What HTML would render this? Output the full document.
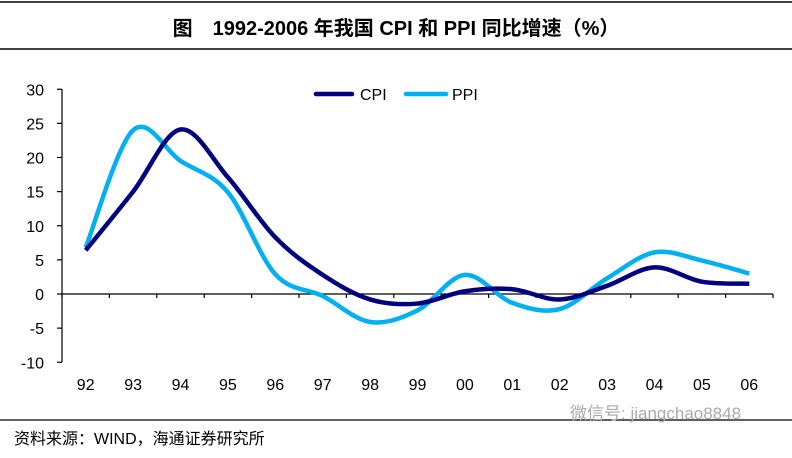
<!DOCTYPE html><html><head><meta charset="utf-8"><style>
body{margin:0;background:#fff;width:792px;height:453px;overflow:hidden}
</style></head><body>
<svg id="s" width="792" height="453" xmlns="http://www.w3.org/2000/svg" font-family="Liberation Sans, Noto Sans CJK SC, sans-serif">
<line x1="0" y1="2" x2="792" y2="2" stroke="#000" stroke-width="1.5"/>
<line x1="0" y1="49" x2="792" y2="49" stroke="#000" stroke-width="1.5"/>
<line x1="0" y1="420" x2="792" y2="420" stroke="#000" stroke-width="1.2"/>
<text x="396" y="35" text-anchor="middle" font-size="20" font-weight="bold">图　1992-2006 年我国 CPI 和 PPI 同比增速（%）</text>
<text x="14" y="444" font-size="16">资料来源：WIND，海通证券研究所</text>
<text x="570" y="419" font-size="17" fill="#aaa">微信号: jiangchao8848</text>
<g id="ax" stroke="#000" stroke-width="1.2"></g>
<g id="lab" font-size="16" fill="#000"></g>
<path id="ppi" fill="none" stroke="#00b0f0" stroke-width="4.5"/>
<path id="cpi" fill="none" stroke="#000080" stroke-width="4.5"/>
<line x1="316" y1="94" x2="352" y2="94" stroke="#000080" stroke-width="4.5" stroke-linecap="round"/>
<text x="360" y="100" font-size="16">CPI</text>
<line x1="406" y1="94" x2="446" y2="94" stroke="#00b0f0" stroke-width="4.5" stroke-linecap="round"/>
<text x="452" y="100" font-size="16">PPI</text>
</svg>
<script>
var NS="http://www.w3.org/2000/svg";
function Y(v){return 294-v*6.825}
function X(i){return 62+23.7+i*47.4}
var ax=document.getElementById('ax'),lab=document.getElementById('lab');
function el(p,t,a){var e=document.createElementNS(NS,t);for(var k in a)e.setAttribute(k,a[k]);p.appendChild(e);return e}
el(ax,'line',{x1:62,y1:Y(30),x2:62,y2:Y(-10)});
el(ax,'line',{x1:62,y1:294,x2:773,y2:294});
for(var v=-10;v<=30;v+=5){el(ax,'line',{x1:57,y1:Y(v),x2:62,y2:Y(v)});var t=el(lab,'text',{x:44,y:Y(v)+6,'text-anchor':'end'});t.textContent=v;}
var yrs=["92","93","94","95","96","97","98","99","00","01","02","03","04","05","06"];
for(var i=0;i<15;i++){var t=el(lab,'text',{x:X(i),y:390,'text-anchor':'middle'});t.textContent=yrs[i];el(ax,'line',{x1:62+i*47.4,y1:294,x2:62+i*47.4,y2:298});}
el(ax,'line',{x1:773,y1:294,x2:773,y2:298});
function path(d){var p=d.map(function(v,i){return[X(i),Y(v)]});var s="M"+p[0][0]+","+p[0][1];
for(var i=0;i<p.length-1;i++){var p0=p[i-1]||p[i],p1=p[i],p2=p[i+1],p3=p[i+2]||p2;var t=6;
s+=" C"+(p1[0]+(p2[0]-p0[0])/t)+","+(p1[1]+(p2[1]-p0[1])/t)+" "+(p2[0]-(p3[0]-p1[0])/t)+","+(p2[1]-(p3[1]-p1[1])/t)+" "+p2[0]+","+p2[1];}return s}
document.getElementById('cpi').setAttribute('d',path([6.4,15,24.1,17.1,8.3,2.8,-0.8,-1.4,0.4,0.7,-0.8,1.2,3.9,1.8,1.5]));
document.getElementById('ppi').setAttribute('d',path([6.8,24.0,19.5,14.9,2.9,-0.3,-4.1,-2.4,2.8,-1.3,-2.2,2.3,6.1,4.9,3.0]));
</script>
</body></html>
